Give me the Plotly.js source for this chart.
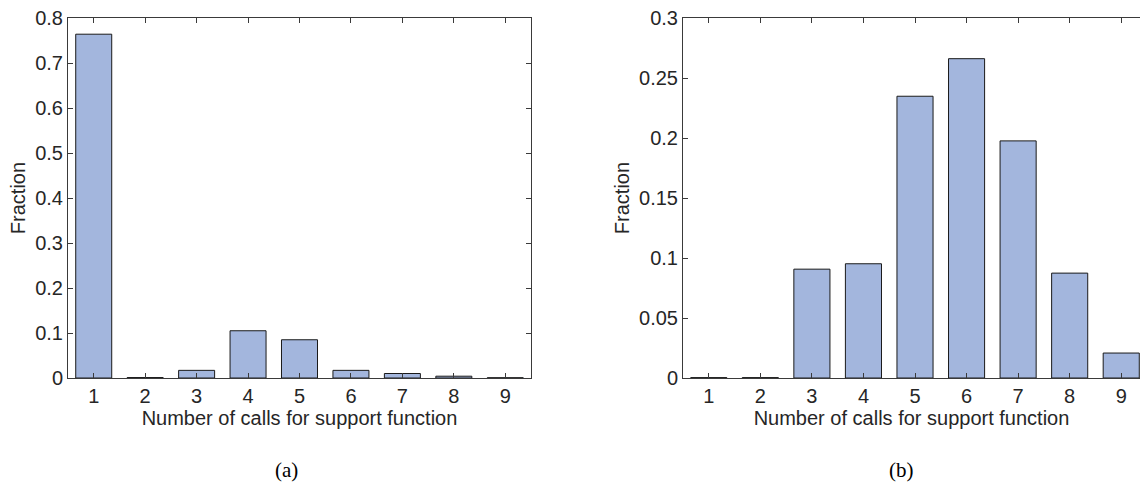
<!DOCTYPE html>
<html>
<head>
<meta charset="utf-8">
<script src="https://cdn.plot.ly/plotly-3.0.1.min.js"></script>
<style>
  html, body { margin: 0; padding: 0; background: #fff; }
  #chart { width: 1140px; height: 489px; }
</style>
</head>
<body>
<div id="chart"></div>
<script>
// Number of support-function calls (x) and the fraction of cases for each
const calls = [1, 2, 3, 4, 5, 6, 7, 8, 9];
const fractionA = [0.764, 0.001, 0.017, 0.105, 0.085, 0.017, 0.010, 0.004, 0.0005];
const fractionB = [0.0003, 0.0003, 0.0907, 0.0952, 0.2348, 0.2661, 0.1976, 0.0874, 0.0208];
const ticksA = [0, 0.1, 0.2, 0.3, 0.4, 0.5, 0.6, 0.7, 0.8];
const tickTextA = ['0', '0.1', '0.2', '0.3', '0.4', '0.5', '0.6', '0.7', '0.8'];
const ticksB = [0, 0.05, 0.1, 0.15, 0.2, 0.25, 0.3];
const tickTextB = ['0', '0.05', '0.1', '0.15', '0.2', '0.25', '0.3'];
const xLabel = 'Number of calls for support function';
const yLabel = 'Fraction';
const captions = ['(a)', '(b)'];

const W = 1140, H = 489;
const axisColor = '#3a3a3a';
const textColor = '#262626';
const sans = 'Liberation Sans, Arial, sans-serif';
const fontSize = 20;

const barStyle = {
  type: 'bar',
  width: 0.7,
  marker: { color: '#a3b6dd', line: { color: '#1a1a1a', width: 1 } },
  hoverinfo: 'x+y',
  showlegend: false
};

const traces = [
  Object.assign({}, barStyle, { x: calls, y: fractionA, xaxis: 'x', yaxis: 'y' }),
  Object.assign({}, barStyle, { x: calls, y: fractionB, xaxis: 'x2', yaxis: 'y2' })
];

const yDom = [1 - 378 / H, 1 - 18 / H];

function xAxis(domain, range, anchor) {
  return {
    domain: domain, range: range, anchor: anchor,
    tickmode: 'array', tickvals: calls, ticktext: calls.map(String),
    ticks: 'inside', ticklen: 5, tickcolor: axisColor, tickwidth: 1,
    showline: true, linecolor: axisColor, linewidth: 1, mirror: 'ticks',
    showgrid: false, zeroline: false,
    tickfont: { family: sans, size: fontSize, color: textColor },
    title: { text: xLabel, font: { family: sans, size: fontSize, color: textColor }, standoff: 4 }
  };
}

function yAxis(range, vals, text, anchor, mirror) {
  return {
    domain: yDom, range: range, anchor: anchor,
    tickmode: 'array', tickvals: vals, ticktext: text,
    ticks: 'inside', ticklen: 5, tickcolor: axisColor, tickwidth: 1,
    showline: true, linecolor: axisColor, linewidth: 1, mirror: mirror,
    showgrid: false, zeroline: false,
    tickfont: { family: sans, size: fontSize, color: textColor },
    title: { text: yLabel, font: { family: sans, size: fontSize, color: textColor }, standoff: 4 }
  };
}

const layout = {
  width: W, height: H,
  margin: { l: 0, r: 0, t: 0, b: 0 },
  paper_bgcolor: '#ffffff', plot_bgcolor: '#ffffff',
  bargap: 0,
  xaxis: xAxis([68 / W, 531 / W], [0.5, 9.5], 'y'),
  yaxis: yAxis([0, 0.8], ticksA, tickTextA, 'x', 'ticks'),
  // right panel runs past the page edge, so its right frame is not shown
  xaxis2: xAxis([683 / W, 1], [0.5, 9.5 - 7 / 51.5], 'y2'),
  yaxis2: yAxis([0, 0.3], ticksB, tickTextB, 'x2', false),
  annotations: [
    { text: captions[0], x: 286 / W, y: 1 - 470 / H },
    { text: captions[1], x: 901 / W, y: 1 - 470 / H }
  ].map(a => Object.assign(a, {
    xref: 'paper', yref: 'paper', showarrow: false,
    xanchor: 'center', yanchor: 'middle',
    font: { family: 'Liberation Serif, Times New Roman, serif', size: 21, color: '#000' }
  }))
};

Plotly.newPlot('chart', traces, layout, { displayModeBar: false, staticPlot: true });
</script>
</body>
</html>
